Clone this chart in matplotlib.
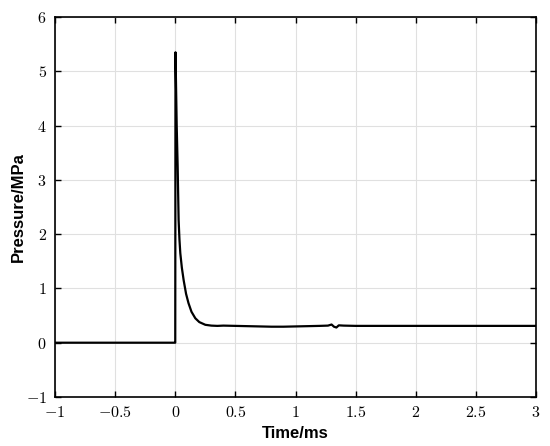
import numpy as np
import matplotlib
matplotlib.use("Agg")
import matplotlib.pyplot as plt
from matplotlib.ticker import FuncFormatter

# pressure trace
time_ms = [-1.0, -0.5, -0.002, 0.0, 0.002, 0.012, 0.02, 0.028, 0.035, 0.042, 0.055,
           0.07, 0.09, 0.11, 0.135, 0.167, 0.2, 0.25, 0.3, 0.35, 0.4,
           0.5, 0.6, 0.7, 0.8, 0.9, 1.0, 1.1, 1.2, 1.27, 1.30, 1.32, 1.34, 1.36,
           1.4, 1.5, 1.7, 2.0, 2.5, 3.0]
pressure_mpa = [0.0, 0.0, 0.0, 0.0, 5.35, 4.0, 3.25, 2.26, 1.9, 1.65, 1.38,
                1.15, 0.9, 0.73, 0.57, 0.45, 0.38, 0.33, 0.315, 0.31, 0.315,
                0.31, 0.305, 0.3, 0.295, 0.295, 0.3, 0.305, 0.31, 0.315, 0.335, 0.295, 0.28, 0.32,
                0.315, 0.31, 0.31, 0.31, 0.31, 0.31]

xticks = [-1, -0.5, 0, 0.5, 1, 1.5, 2, 2.5, 3]
yticks = [-1, 0, 1, 2, 3, 4, 5, 6]

plt.rcParams['mathtext.fontset'] = 'cm'

fig = plt.figure(figsize=(5.5, 4.46), dpi=100)
ax = fig.add_axes([55/550, 1 - 397/446, (536-55)/550, (397-17)/446])

ax.plot(time_ms, pressure_mpa, color='black', lw=1.6)

ax.set_xlim(-1, 3)
ax.set_ylim(-1, 6)
ax.set_xticks(xticks)
ax.set_yticks(yticks)

def fmt(v, pos):
    s = ('%g' % v).replace('-', '{-}')
    return '$' + s + '$'

ax.xaxis.set_major_formatter(FuncFormatter(fmt))
ax.yaxis.set_major_formatter(FuncFormatter(fmt))

ax.grid(True, color='#e0e0e0', lw=0.8)
ax.set_axisbelow(True)
ax.tick_params(direction='in', top=True, right=True, length=4, width=1, labelsize=11.5, pad=6)
for s in ax.spines.values():
    s.set_linewidth(1.2)

ax.set_xlabel('Time/ms', fontsize=12, fontweight='bold', family='Liberation Sans', va='center')
ax.set_ylabel('Pressure/MPa', fontsize=12, fontweight='bold', family='Liberation Sans', va='center')
ax.xaxis.set_label_coords(0.5, -(433 - 397) / 380)
ax.yaxis.set_label_coords(-(55 - 18) / 481, 0.5)

fig.savefig('out.png', dpi=100)
